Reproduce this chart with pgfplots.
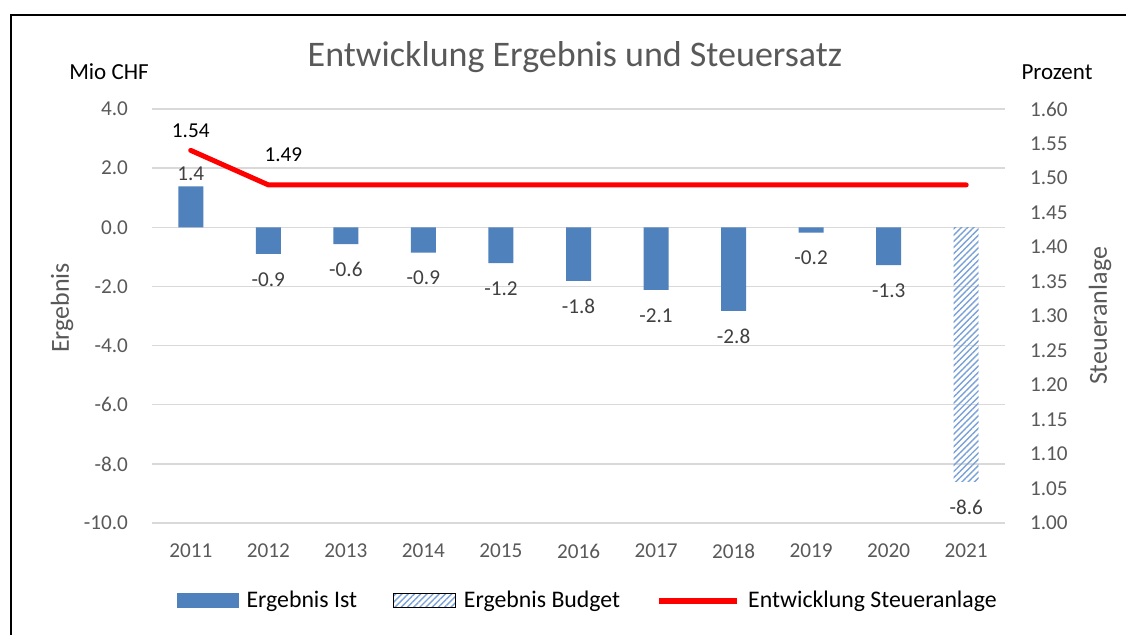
\documentclass[border=0pt]{standalone}
\usepackage{fontspec}
\setmainfont{Carlito}
\usepackage{pgfplots}
\pgfplotsset{compat=1.18}
\usetikzlibrary{patterns,patterns.meta}
\definecolor{barblue}{HTML}{4F81BD}
\definecolor{hatchblue}{HTML}{7BA2D8}
\definecolor{tickgray}{HTML}{595959}
\definecolor{labgray}{HTML}{404040}
\definecolor{gridgray}{HTML}{D9D9D9}

\pgfplotstableread{
x y
0 1.38
1 -0.90
2 -0.57
3 -0.86
4 -1.21
5 -1.81
6 -2.12
7 -2.83
8 -0.18
9 -1.28
}\ist
\pgfplotstableread{
x y
10 -8.6
}\budget
\pgfplotstableread{
x y
0 1.54
1 1.49
2 1.49
3 1.49
4 1.49
5 1.49
6 1.49
7 1.49
8 1.49
9 1.49
10 1.49
}\steuer

\newcommand{\tickfont}{\fontsize{10.6}{12}\selectfont}
\begin{document}
\begin{tikzpicture}
\useasboundingbox (0,0) rectangle (563pt,317.5pt);
\fill[white] (0,0) rectangle (563pt,317.5pt);
\draw[line width=1pt] (5.5pt,0) -- (5.5pt,310pt) -- (563pt,310pt);

\begin{axis}[
  at={(76pt,56pt)}, anchor=south west,
  scale only axis, width=426.5pt, height=207pt,
  xmin=-0.5, xmax=10.5, ymin=-10, ymax=4,
  ytick={-10,-8,-6,-4,-2,0,2,4},
  xtick={0,1,2,3,4,5,6,7,8,9,10},
  xticklabels={2011,2012,2013,2014,2015,2016,2017,2018,2019,2020,2021},
  ymajorgrids, grid style={gridgray, line width=0.75pt},
  axis line style={draw=none}, tick style={draw=none}, major tick length=0pt,
  yticklabel style={font=\tickfont, text=tickgray, xshift=-8.5pt,
    /pgf/number format/.cd, fixed, fixed zerofill, precision=1, assume math mode=true},
  xticklabel style={font=\tickfont, text=tickgray, yshift=-7pt},
  ybar, bar width=12.5pt, bar shift=0pt,
  clip=false,
]
\addplot[fill=barblue, draw=none,
  nodes near coords={\pgfmathprintnumber[fixed,fixed zerofill,precision=1,assume math mode=true]{\pgfplotspointmeta}},
  nodes near coords align=vertical,
  visualization depends on={y \as \rawy},
  every node near coord/.append style={font=\tickfont, text=labgray, inner sep=2.5pt,
     yshift={ifthenelse(\rawy<0,-6.5,0)}}]
  table[x=x,y=y] {\ist};
\addplot[pattern={Lines[angle=45,distance=2.2pt,line width=0.7pt]}, pattern color=hatchblue, draw=none,
  nodes near coords={\pgfmathprintnumber[fixed,fixed zerofill,precision=1,assume math mode=true]{\pgfplotspointmeta}},
  nodes near coords align=vertical,
  every node near coord/.append style={font=\tickfont, text=labgray, inner sep=2.5pt, yshift=-6.5pt}]
  table[x=x,y=y] {\budget};
\end{axis}

\begin{axis}[
  at={(76pt,56pt)}, anchor=south west,
  scale only axis, width=426.5pt, height=207pt,
  xmin=-0.5, xmax=10.5, ymin=1, ymax=1.6,
  axis y line*=right, hide x axis,
  ytick={1,1.05,1.1,1.15,1.2,1.25,1.3,1.35,1.4,1.45,1.5,1.55,1.6},
  axis line style={draw=none}, tick style={draw=none}, major tick length=0pt,
  yticklabel style={font=\tickfont, text=tickgray, xshift=9pt,
    /pgf/number format/.cd, fixed, fixed zerofill, precision=2, assume math mode=true},
  clip=false,
  legend columns=-1,
  legend style={at={(axis description cs:0.512,-0.188)}, anchor=center, draw=none, fill=none,
    font=\fontsize{11.9}{14}\selectfont,
    /tikz/every even column/.append style={column sep=16pt},
    /tikz/every odd column/.append style={column sep=2pt}},
]
\addlegendimage{legend image code/.code={\fill[barblue] (0pt,-3.5pt) rectangle (30.5pt,3.5pt);}}
\addlegendentry{Ergebnis Ist}
\addlegendimage{legend image code/.code={\fill[pattern={Lines[angle=45,distance=2.2pt,line width=0.7pt]}, pattern color=hatchblue] (0pt,-3.5pt) rectangle (31pt,3.5pt);}}
\addlegendentry{Ergebnis Budget}
\addlegendimage{legend image code/.code={\draw[red, line width=3pt] (0pt,0pt) -- (39pt,0pt);}}
\addlegendentry{Entwicklung Steueranlage}
\addplot[red, line width=2.5pt, line cap=round, line join=round, mark=none] table[x=x,y=y] {\steuer};
\node[font=\tickfont, text=black] at (axis cs:0,1.54) [yshift=10pt] {1.54};
\node[font=\tickfont, text=black] at (axis cs:1,1.49) [xshift=7.5pt, yshift=15pt] {1.49};
\end{axis}

\begin{scope}[x=0.5pt, y=-0.5pt, shift={(0pt,317.5pt)}]
\node[font=\fontsize{18}{21}\selectfont, text=tickgray] at (575,57) {Entwicklung Ergebnis und Steuersatz};
\node[font=\fontsize{11.5}{13}\selectfont, text=black] at (109,72) {Mio CHF};
\node[font=\fontsize{11.5}{13}\selectfont, text=black] at (1057,72) {Prozent};
\node[font=\fontsize{13}{15}\selectfont, text=tickgray, rotate=90] at (62,308) {Ergebnis};
\node[font=\fontsize{13}{15}\selectfont, text=tickgray, rotate=90] at (1100,316) {Steueranlage};
\end{scope}
\end{tikzpicture}
\end{document}
